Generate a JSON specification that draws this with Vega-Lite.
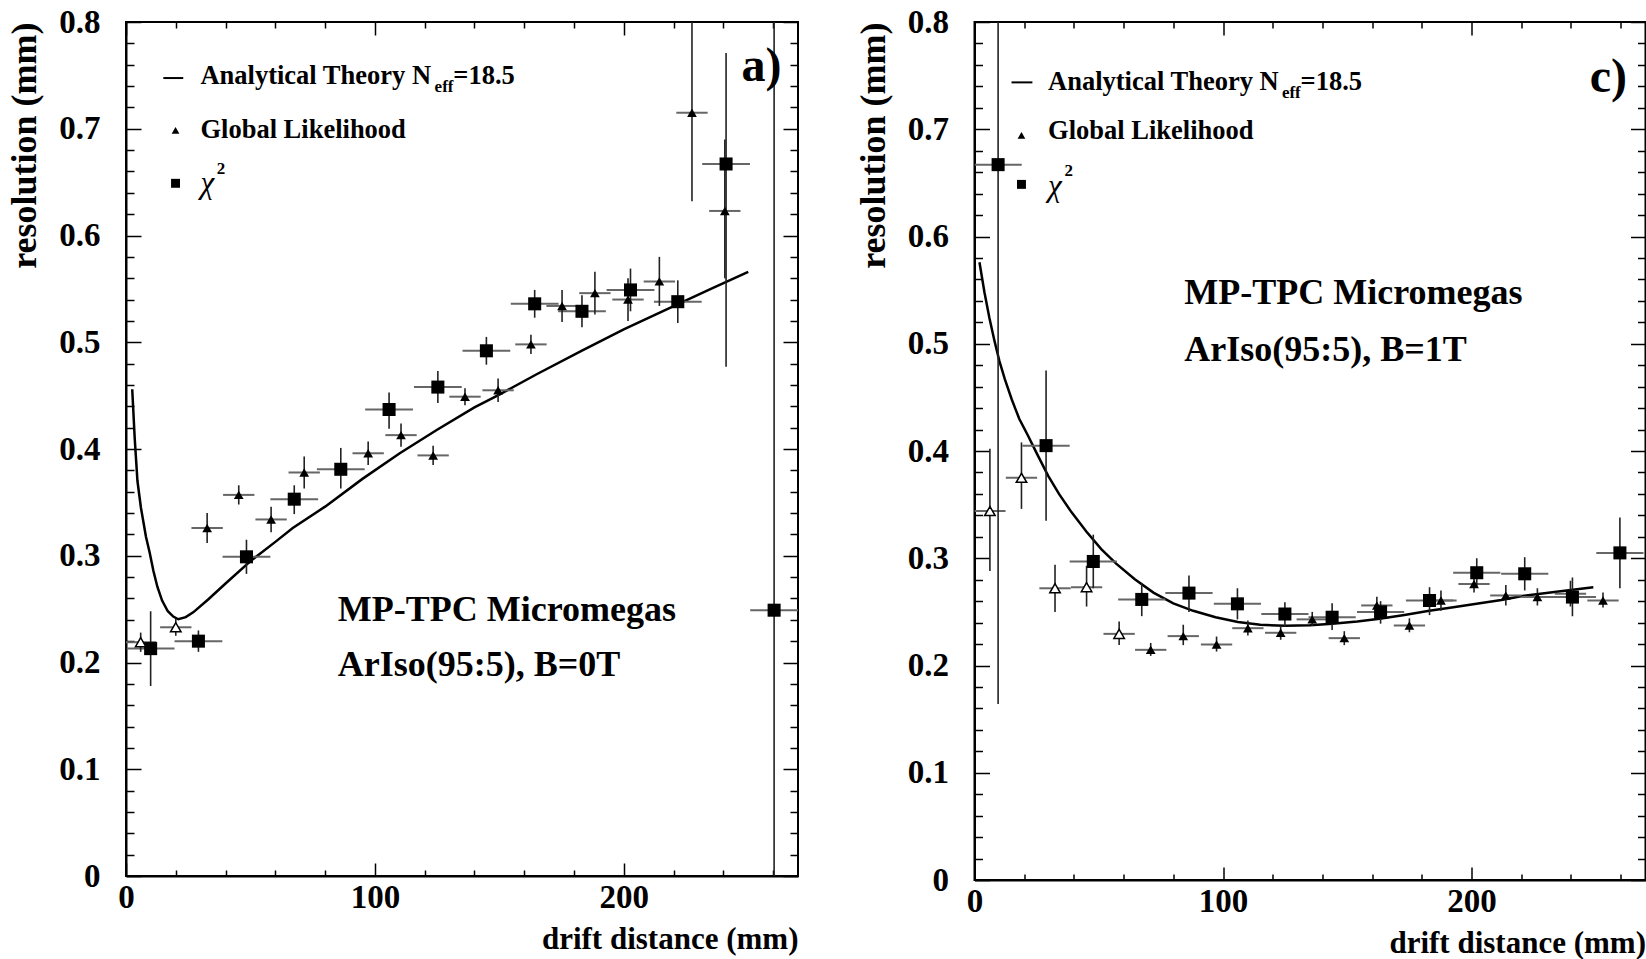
{
  "$schema": "https://vega.github.io/schema/vega-lite/v6.json",
  "padding": {"left": 5, "top": 5, "right": 0, "bottom": 0},
  "background": "white",
  "spacing": 176.5,
  "bounds": "flush",
  "config": {
    "font": "Liberation Serif",
    "view": {"stroke": "black", "strokeWidth": 2},
    "axis": {
      "grid": false,
      "labelFont": "Liberation Serif",
      "labelFontWeight": "bold",
      "labelFontSize": 33,
      "labelColor": "black",
      "titleFont": "Liberation Serif",
      "titleFontWeight": "bold",
      "titleColor": "black",
      "domainColor": "black",
      "domainWidth": 2,
      "tickColor": "black",
      "tickWidth": 1.5,
      "labelOverlap": false,
      "labelFlush": false
    }
  },
  "datasets": {
    "aTh": [
      {"x": 2.5, "y": 0.456}, {"x": 3.5, "y": 0.41}, {"x": 4.6, "y": 0.37}, {"x": 6, "y": 0.345},
      {"x": 8, "y": 0.318}, {"x": 9.5, "y": 0.303}, {"x": 11, "y": 0.286}, {"x": 12.6, "y": 0.271},
      {"x": 14.5, "y": 0.258}, {"x": 16.8, "y": 0.248}, {"x": 19, "y": 0.243}, {"x": 21, "y": 0.2405},
      {"x": 24, "y": 0.2425}, {"x": 27, "y": 0.247}, {"x": 33, "y": 0.259}, {"x": 40, "y": 0.274},
      {"x": 50, "y": 0.295}, {"x": 60, "y": 0.313}, {"x": 67, "y": 0.326}, {"x": 80, "y": 0.346},
      {"x": 95, "y": 0.372}, {"x": 110, "y": 0.396}, {"x": 125, "y": 0.418}, {"x": 140, "y": 0.439},
      {"x": 150, "y": 0.451}, {"x": 165, "y": 0.47}, {"x": 183, "y": 0.492}, {"x": 200, "y": 0.512},
      {"x": 222, "y": 0.536}, {"x": 235, "y": 0.55}, {"x": 250, "y": 0.566}
    ],
    "aP": [
      {"x": 9.9, "y": 0.213, "xlo": 0.3, "xhi": 19.5, "ylo": 0.178, "yhi": 0.248, "k": "sq"},
      {"x": 29.1, "y": 0.22, "xlo": 19.5, "xhi": 38.7, "ylo": 0.21, "yhi": 0.23, "k": "sq"},
      {"x": 48.4, "y": 0.299, "xlo": 38.8, "xhi": 58, "ylo": 0.283, "yhi": 0.315, "k": "sq"},
      {"x": 67.6, "y": 0.353, "xlo": 58, "xhi": 77.2, "ylo": 0.339, "yhi": 0.366, "k": "sq"},
      {"x": 86.3, "y": 0.381, "xlo": 76.7, "xhi": 95.9, "ylo": 0.363, "yhi": 0.401, "k": "sq"},
      {"x": 105.7, "y": 0.437, "xlo": 96.1, "xhi": 115.3, "ylo": 0.419, "yhi": 0.453, "k": "sq"},
      {"x": 125.3, "y": 0.458, "xlo": 115.7, "xhi": 134.9, "ylo": 0.443, "yhi": 0.473, "k": "sq"},
      {"x": 144.8, "y": 0.492, "xlo": 135.2, "xhi": 154.4, "ylo": 0.479, "yhi": 0.505, "k": "sq"},
      {"x": 164.2, "y": 0.536, "xlo": 154.6, "xhi": 173.8, "ylo": 0.523, "yhi": 0.549, "k": "sq"},
      {"x": 183.2, "y": 0.529, "xlo": 173.6, "xhi": 192.8, "ylo": 0.514, "yhi": 0.544, "k": "sq"},
      {"x": 202.7, "y": 0.549, "xlo": 193.1, "xhi": 212.3, "ylo": 0.529, "yhi": 0.569, "k": "sq"},
      {"x": 221.7, "y": 0.538, "xlo": 212.1, "xhi": 231.3, "ylo": 0.518, "yhi": 0.558, "k": "sq"},
      {"x": 241.1, "y": 0.667, "xlo": 231.5, "xhi": 250.7, "ylo": 0.477, "yhi": 0.771, "k": "sq"},
      {"x": 260.4, "y": 0.249, "xlo": 250.8, "xhi": 270, "ylo": 0, "yhi": 0.8, "k": "sq"},
      {"x": 5.9, "y": 0.219, "xlo": 0, "xhi": 12.2, "ylo": 0.21, "yhi": 0.228, "k": "op"},
      {"x": 20, "y": 0.233, "xlo": 13.7, "xhi": 26.3, "ylo": 0.225, "yhi": 0.241, "k": "op"},
      {"x": 32.6, "y": 0.326, "xlo": 26.3, "xhi": 38.9, "ylo": 0.312, "yhi": 0.34, "k": "tr"},
      {"x": 45.3, "y": 0.357, "xlo": 39, "xhi": 51.6, "ylo": 0.348, "yhi": 0.366, "k": "tr"},
      {"x": 58.3, "y": 0.334, "xlo": 52, "xhi": 64.6, "ylo": 0.322, "yhi": 0.346, "k": "tr"},
      {"x": 71.6, "y": 0.378, "xlo": 65.3, "xhi": 77.9, "ylo": 0.363, "yhi": 0.393, "k": "tr"},
      {"x": 97.3, "y": 0.396, "xlo": 91, "xhi": 103.6, "ylo": 0.385, "yhi": 0.407, "k": "tr"},
      {"x": 110.5, "y": 0.413, "xlo": 104.2, "xhi": 116.8, "ylo": 0.402, "yhi": 0.424, "k": "tr"},
      {"x": 123.4, "y": 0.394, "xlo": 117.1, "xhi": 129.7, "ylo": 0.385, "yhi": 0.403, "k": "tr"},
      {"x": 136.2, "y": 0.449, "xlo": 129.9, "xhi": 142.5, "ylo": 0.441, "yhi": 0.457, "k": "tr"},
      {"x": 149.5, "y": 0.455, "xlo": 143.2, "xhi": 155.8, "ylo": 0.444, "yhi": 0.466, "k": "tr"},
      {"x": 162.7, "y": 0.498, "xlo": 156.4, "xhi": 169, "ylo": 0.489, "yhi": 0.507, "k": "tr"},
      {"x": 175.2, "y": 0.534, "xlo": 168.9, "xhi": 181.5, "ylo": 0.519, "yhi": 0.549, "k": "tr"},
      {"x": 188.4, "y": 0.546, "xlo": 182.1, "xhi": 194.7, "ylo": 0.526, "yhi": 0.566, "k": "tr"},
      {"x": 201.7, "y": 0.54, "xlo": 195.4, "xhi": 208, "ylo": 0.52, "yhi": 0.56, "k": "tr"},
      {"x": 214.3, "y": 0.557, "xlo": 208, "xhi": 220.6, "ylo": 0.534, "yhi": 0.58, "k": "tr"},
      {"x": 227.4, "y": 0.715, "xlo": 221.1, "xhi": 233.7, "ylo": 0.632, "yhi": 0.8, "k": "tr"},
      {"x": 240.6, "y": 0.623, "xlo": 234.3, "xhi": 246.9, "ylo": 0.56, "yhi": 0.69, "k": "tr"}
    ],
    "aLeg": [
      {"x": 15, "x2": 23, "y": 0.7475, "k": "line"},
      {"x": 19.9, "y": 0.6985, "k": "tr"},
      {"x": 19.9, "y": 0.6489, "k": "sq"}
    ],
    "aTxt": [
      {"x": 29.9, "y": 0.7416, "t": "Analytical Theory N", "r": "leg"},
      {"x": 124, "y": 0.7341, "t": "eff", "r": "sub"},
      {"x": 131.5, "y": 0.7416, "t": "=18.5", "r": "leg"},
      {"x": 29.9, "y": 0.691, "t": "Global Likelihood", "r": "leg"},
      {"x": 29.9, "y": 0.6395, "t": "χ", "r": "chi"},
      {"x": 36.5, "y": 0.6573, "t": "2", "r": "sub"},
      {"x": 263.4, "y": 0.7444, "t": "a)", "r": "tag"},
      {"x": 85.1, "y": 0.2388, "t": "MP-TPC Micromegas", "r": "big"},
      {"x": 85.1, "y": 0.1873, "t": "ArIso(95:5), B=0T", "r": "big"}
    ],
    "cTh": [
      {"x": 2, "y": 0.576}, {"x": 4, "y": 0.548}, {"x": 6, "y": 0.524}, {"x": 8, "y": 0.503},
      {"x": 10, "y": 0.484}, {"x": 12.2, "y": 0.467}, {"x": 15, "y": 0.448}, {"x": 18, "y": 0.43},
      {"x": 21.6, "y": 0.414}, {"x": 25, "y": 0.398}, {"x": 29.6, "y": 0.377}, {"x": 34, "y": 0.36},
      {"x": 39, "y": 0.343}, {"x": 45, "y": 0.325}, {"x": 51, "y": 0.3085}, {"x": 57, "y": 0.295},
      {"x": 64.5, "y": 0.2805}, {"x": 72, "y": 0.268}, {"x": 80, "y": 0.258}, {"x": 88, "y": 0.251},
      {"x": 97, "y": 0.245}, {"x": 106, "y": 0.2405}, {"x": 115, "y": 0.238}, {"x": 125, "y": 0.237},
      {"x": 135, "y": 0.2375}, {"x": 144, "y": 0.239}, {"x": 154, "y": 0.241}, {"x": 163, "y": 0.2435},
      {"x": 173, "y": 0.247}, {"x": 183, "y": 0.251}, {"x": 192, "y": 0.254}, {"x": 202, "y": 0.2575},
      {"x": 212, "y": 0.261}, {"x": 221, "y": 0.265}, {"x": 235, "y": 0.269}, {"x": 249, "y": 0.273}
    ],
    "cP": [
      {"x": 9.5, "y": 0.667, "xlo": 0, "xhi": 19, "ylo": 0.164, "yhi": 0.8, "k": "sq"},
      {"x": 28.8, "y": 0.405, "xlo": 19.3, "xhi": 38.3, "ylo": 0.335, "yhi": 0.475, "k": "sq"},
      {"x": 47.8, "y": 0.297, "xlo": 38.3, "xhi": 57.3, "ylo": 0.272, "yhi": 0.322, "k": "sq"},
      {"x": 67.3, "y": 0.2616, "xlo": 57.8, "xhi": 76.8, "ylo": 0.246, "yhi": 0.277, "k": "sq"},
      {"x": 86.3, "y": 0.2675, "xlo": 76.8, "xhi": 95.8, "ylo": 0.25, "yhi": 0.284, "k": "sq"},
      {"x": 105.8, "y": 0.2575, "xlo": 96.3, "xhi": 115.3, "ylo": 0.243, "yhi": 0.272, "k": "sq"},
      {"x": 124.9, "y": 0.248, "xlo": 115.4, "xhi": 134.4, "ylo": 0.236, "yhi": 0.259, "k": "sq"},
      {"x": 143.9, "y": 0.245, "xlo": 134.4, "xhi": 153.4, "ylo": 0.233, "yhi": 0.258, "k": "sq"},
      {"x": 163.4, "y": 0.25, "xlo": 153.9, "xhi": 172.9, "ylo": 0.239, "yhi": 0.26, "k": "sq"},
      {"x": 183.1, "y": 0.2606, "xlo": 173.6, "xhi": 192.6, "ylo": 0.247, "yhi": 0.273, "k": "sq"},
      {"x": 202.1, "y": 0.2865, "xlo": 192.6, "xhi": 211.6, "ylo": 0.273, "yhi": 0.3, "k": "sq"},
      {"x": 221.4, "y": 0.2855, "xlo": 211.9, "xhi": 230.9, "ylo": 0.27, "yhi": 0.301, "k": "sq"},
      {"x": 240.6, "y": 0.2638, "xlo": 231.1, "xhi": 250.1, "ylo": 0.246, "yhi": 0.282, "k": "sq"},
      {"x": 259.7, "y": 0.305, "xlo": 250.2, "xhi": 269.2, "ylo": 0.272, "yhi": 0.338, "k": "sq"},
      {"x": 6.2, "y": 0.344, "xlo": 0, "xhi": 12.5, "ylo": 0.288, "yhi": 0.402, "k": "op"},
      {"x": 18.9, "y": 0.375, "xlo": 12.6, "xhi": 25.2, "ylo": 0.346, "yhi": 0.408, "k": "op"},
      {"x": 32.4, "y": 0.272, "xlo": 26.1, "xhi": 38.7, "ylo": 0.25, "yhi": 0.294, "k": "op"},
      {"x": 45.1, "y": 0.273, "xlo": 38.8, "xhi": 51.4, "ylo": 0.255, "yhi": 0.293, "k": "op"},
      {"x": 58.2, "y": 0.2295, "xlo": 51.9, "xhi": 64.5, "ylo": 0.219, "yhi": 0.241, "k": "op"},
      {"x": 70.9, "y": 0.2146, "xlo": 64.6, "xhi": 77.2, "ylo": 0.209, "yhi": 0.221, "k": "tr"},
      {"x": 84, "y": 0.2274, "xlo": 77.7, "xhi": 90.3, "ylo": 0.219, "yhi": 0.238, "k": "tr"},
      {"x": 97.4, "y": 0.2196, "xlo": 91.1, "xhi": 103.7, "ylo": 0.213, "yhi": 0.227, "k": "tr"},
      {"x": 110, "y": 0.2348, "xlo": 103.7, "xhi": 116.3, "ylo": 0.228, "yhi": 0.242, "k": "tr"},
      {"x": 123.2, "y": 0.2305, "xlo": 116.9, "xhi": 129.5, "ylo": 0.224, "yhi": 0.237, "k": "tr"},
      {"x": 135.9, "y": 0.243, "xlo": 129.6, "xhi": 142.2, "ylo": 0.237, "yhi": 0.25, "k": "tr"},
      {"x": 148.8, "y": 0.2255, "xlo": 142.5, "xhi": 155.1, "ylo": 0.219, "yhi": 0.232, "k": "tr"},
      {"x": 161.9, "y": 0.256, "xlo": 155.6, "xhi": 168.2, "ylo": 0.248, "yhi": 0.264, "k": "tr"},
      {"x": 175, "y": 0.2373, "xlo": 168.7, "xhi": 181.3, "ylo": 0.231, "yhi": 0.244, "k": "tr"},
      {"x": 187.7, "y": 0.2606, "xlo": 181.4, "xhi": 194, "ylo": 0.251, "yhi": 0.27, "k": "tr"},
      {"x": 201, "y": 0.276, "xlo": 194.7, "xhi": 207.3, "ylo": 0.268, "yhi": 0.285, "k": "tr"},
      {"x": 213.8, "y": 0.2653, "xlo": 207.5, "xhi": 220.1, "ylo": 0.256, "yhi": 0.275, "k": "tr"},
      {"x": 226.5, "y": 0.2638, "xlo": 220.2, "xhi": 232.8, "ylo": 0.256, "yhi": 0.272, "k": "tr"},
      {"x": 239.8, "y": 0.2669, "xlo": 233.5, "xhi": 246.1, "ylo": 0.255, "yhi": 0.279, "k": "tr"},
      {"x": 252.9, "y": 0.2606, "xlo": 246.6, "xhi": 259.2, "ylo": 0.254, "yhi": 0.268, "k": "tr"}
    ],
    "cLeg": [
      {"x": 14.9, "x2": 23.3, "y": 0.7437, "k": "line"},
      {"x": 18.9, "y": 0.6943, "k": "tr"},
      {"x": 18.9, "y": 0.6486, "k": "sq"}
    ],
    "cTxt": [
      {"x": 29.6, "y": 0.7363, "t": "Analytical Theory N", "r": "leg"},
      {"x": 123.7, "y": 0.7288, "t": "eff", "r": "sub"},
      {"x": 131.2, "y": 0.7363, "t": "=18.5", "r": "leg"},
      {"x": 29.6, "y": 0.6906, "t": "Global Likelihood", "r": "leg"},
      {"x": 29.6, "y": 0.6375, "t": "χ", "r": "chi"},
      {"x": 36.2, "y": 0.6561, "t": "2", "r": "sub"},
      {"x": 262.6, "y": 0.7344, "t": "c)", "r": "tag"},
      {"x": 84.4, "y": 0.5368, "t": "MP-TPC Micromegas", "r": "big"},
      {"x": 84.4, "y": 0.4837, "t": "ArIso(95:5), B=1T", "r": "big"}
    ]
  },
  "hconcat": [
    {
      "width": 672,
      "height": 854,
      "resolve": {"axis": {"x": "independent", "y": "independent"}},
      "layer": [
        {
          "data": {"name": "aTh"},
          "mark": {"type": "line", "color": "black", "strokeWidth": 2.5, "clip": true},
          "encoding": {
            "x": {"field": "x", "type": "quantitative", "scale": {"domain": [0, 270], "nice": false, "zero": false},
              "axis": {"orient": "bottom", "values": [0,20,40,60,80,100,120,140,160,180,200,220,240,260],
                "labelExpr": "datum.value % 100 == 0 ? datum.label : ''",
                "tickSize": {"condition": {"test": "datum.value % 100 == 0", "value": -13}, "value": -6},
                "labelPadding": 18, "title": "drift distance (mm)", "titleFontSize": 31,
                "titleAnchor": "end", "titleAlign": "right", "titlePadding": 3}},
            "y": {"field": "y", "type": "quantitative", "scale": {"domain": [0, 0.8], "nice": false, "zero": false},
              "axis": {"orient": "left", "values": [0,0.02,0.04,0.06,0.08,0.1,0.12,0.14,0.16,0.18,0.2,0.22,0.24,0.26,0.28,0.3,0.32,0.34,0.36,0.38,0.4,0.42,0.44,0.46,0.48,0.5,0.52,0.54,0.56,0.58,0.6,0.62,0.64,0.66,0.68,0.7,0.72,0.74,0.76,0.78,0.8],
                "labelExpr": "abs(datum.value*10 - round(datum.value*10)) < 0.0001 ? format(datum.value, '~g') : ''",
                "tickSize": {"condition": {"test": "abs(datum.value*10 - round(datum.value*10)) < 0.0001", "value": -15}, "value": -8},
                "labelPadding": 41, "title": "resolution (mm)", "titleFontSize": 36,
                "titleAnchor": "end", "titlePadding": 15}}
          }
        },
        {
          "data": {"name": "aTh"},
          "mark": {"type": "line", "opacity": 0},
          "encoding": {
            "x": {"field": "x", "type": "quantitative", "scale": {"domain": [0, 270], "nice": false, "zero": false},
              "axis": {"orient": "top", "values": [0,20,40,60,80,100,120,140,160,180,200,220,240,260],
                "labels": false, "domain": false, "title": null,
                "tickSize": {"condition": {"test": "datum.value % 100 == 0", "value": -13}, "value": -6}}},
            "y": {"field": "y", "type": "quantitative", "scale": {"domain": [0, 0.8], "nice": false, "zero": false},
              "axis": {"orient": "right", "values": [0,0.02,0.04,0.06,0.08,0.1,0.12,0.14,0.16,0.18,0.2,0.22,0.24,0.26,0.28,0.3,0.32,0.34,0.36,0.38,0.4,0.42,0.44,0.46,0.48,0.5,0.52,0.54,0.56,0.58,0.6,0.62,0.64,0.66,0.68,0.7,0.72,0.74,0.76,0.78,0.8],
                "labels": false, "domain": false, "title": null,
                "tickSize": {"condition": {"test": "abs(datum.value*10 - round(datum.value*10)) < 0.0001", "value": -15}, "value": -8}}}
          }
        },
        {
          "data": {"name": "aP"},
          "mark": {"type": "rule", "color": "#666", "strokeWidth": 2, "clip": true},
          "encoding": {
            "x": {"field": "xlo", "type": "quantitative", "scale": {"domain": [0, 270], "nice": false, "zero": false}, "axis": null},
            "x2": {"field": "xhi"},
            "y": {"field": "y", "type": "quantitative", "scale": {"domain": [0, 0.8], "nice": false, "zero": false}, "axis": null}
          }
        },
        {
          "data": {"name": "aP"},
          "mark": {"type": "rule", "color": "#222", "strokeWidth": 1.6, "clip": true},
          "encoding": {
            "x": {"field": "x", "type": "quantitative", "scale": {"domain": [0, 270], "nice": false, "zero": false}, "axis": null},
            "y": {"field": "ylo", "type": "quantitative", "scale": {"domain": [0, 0.8], "nice": false, "zero": false}, "axis": null},
            "y2": {"field": "yhi"}
          }
        },
        {
          "data": {"name": "aP"},
          "transform": [{"filter": "datum.k == 'sq'"}],
          "mark": {"type": "point", "shape": "square", "filled": true, "color": "black", "size": 170, "opacity": 1},
          "encoding": {
            "x": {"field": "x", "type": "quantitative", "scale": {"domain": [0, 270], "nice": false, "zero": false}, "axis": null},
            "y": {"field": "y", "type": "quantitative", "scale": {"domain": [0, 0.8], "nice": false, "zero": false}, "axis": null}
          }
        },
        {
          "data": {"name": "aP"},
          "transform": [{"filter": "datum.k == 'tr'"}],
          "mark": {"type": "point", "shape": "triangle-up", "filled": true, "color": "black", "size": 95, "opacity": 1},
          "encoding": {
            "x": {"field": "x", "type": "quantitative", "scale": {"domain": [0, 270], "nice": false, "zero": false}, "axis": null},
            "y": {"field": "y", "type": "quantitative", "scale": {"domain": [0, 0.8], "nice": false, "zero": false}, "axis": null}
          }
        },
        {
          "data": {"name": "aP"},
          "transform": [{"filter": "datum.k == 'op'"}],
          "mark": {"type": "point", "shape": "triangle-up", "filled": true, "fill": "white", "stroke": "black", "strokeWidth": 1.5, "size": 110, "opacity": 1},
          "encoding": {
            "x": {"field": "x", "type": "quantitative", "scale": {"domain": [0, 270], "nice": false, "zero": false}, "axis": null},
            "y": {"field": "y", "type": "quantitative", "scale": {"domain": [0, 0.8], "nice": false, "zero": false}, "axis": null}
          }
        },
        {
          "data": {"name": "aLeg"},
          "transform": [{"filter": "datum.k == 'line'"}],
          "mark": {"type": "rule", "color": "black", "strokeWidth": 2},
          "encoding": {
            "x": {"field": "x", "type": "quantitative", "scale": {"domain": [0, 270], "nice": false, "zero": false}, "axis": null},
            "x2": {"field": "x2"},
            "y": {"field": "y", "type": "quantitative", "scale": {"domain": [0, 0.8], "nice": false, "zero": false}, "axis": null}
          }
        },
        {
          "data": {"name": "aLeg"},
          "transform": [{"filter": "datum.k == 'tr'"}],
          "mark": {"type": "point", "shape": "triangle-up", "filled": true, "color": "black", "size": 60, "opacity": 1},
          "encoding": {
            "x": {"field": "x", "type": "quantitative", "scale": {"domain": [0, 270], "nice": false, "zero": false}, "axis": null},
            "y": {"field": "y", "type": "quantitative", "scale": {"domain": [0, 0.8], "nice": false, "zero": false}, "axis": null}
          }
        },
        {
          "data": {"name": "aLeg"},
          "transform": [{"filter": "datum.k == 'sq'"}],
          "mark": {"type": "point", "shape": "square", "filled": true, "color": "black", "size": 80, "opacity": 1},
          "encoding": {
            "x": {"field": "x", "type": "quantitative", "scale": {"domain": [0, 270], "nice": false, "zero": false}, "axis": null},
            "y": {"field": "y", "type": "quantitative", "scale": {"domain": [0, 0.8], "nice": false, "zero": false}, "axis": null}
          }
        },
        {
          "data": {"name": "aTxt"},
          "transform": [{"filter": "datum.r == 'leg'"}],
          "mark": {"type": "text", "align": "left", "baseline": "alphabetic", "font": "Liberation Serif", "fontWeight": "bold", "fontSize": 26.5, "color": "black"},
          "encoding": {
            "x": {"field": "x", "type": "quantitative", "scale": {"domain": [0, 270], "nice": false, "zero": false}, "axis": null},
            "y": {"field": "y", "type": "quantitative", "scale": {"domain": [0, 0.8], "nice": false, "zero": false}, "axis": null},
            "text": {"field": "t"}
          }
        },
        {
          "data": {"name": "aTxt"},
          "transform": [{"filter": "datum.r == 'sub'"}],
          "mark": {"type": "text", "align": "left", "baseline": "alphabetic", "font": "Liberation Serif", "fontWeight": "bold", "fontSize": 17, "color": "black"},
          "encoding": {
            "x": {"field": "x", "type": "quantitative", "scale": {"domain": [0, 270], "nice": false, "zero": false}, "axis": null},
            "y": {"field": "y", "type": "quantitative", "scale": {"domain": [0, 0.8], "nice": false, "zero": false}, "axis": null},
            "text": {"field": "t"}
          }
        },
        {
          "data": {"name": "aTxt"},
          "transform": [{"filter": "datum.r == 'chi'"}],
          "mark": {"type": "text", "align": "left", "baseline": "alphabetic", "font": "Liberation Serif", "fontStyle": "italic", "fontSize": 31, "color": "black"},
          "encoding": {
            "x": {"field": "x", "type": "quantitative", "scale": {"domain": [0, 270], "nice": false, "zero": false}, "axis": null},
            "y": {"field": "y", "type": "quantitative", "scale": {"domain": [0, 0.8], "nice": false, "zero": false}, "axis": null},
            "text": {"field": "t"}
          }
        },
        {
          "data": {"name": "aTxt"},
          "transform": [{"filter": "datum.r == 'tag'"}],
          "mark": {"type": "text", "align": "right", "baseline": "alphabetic", "font": "Liberation Serif", "fontWeight": "bold", "fontSize": 48, "color": "black"},
          "encoding": {
            "x": {"field": "x", "type": "quantitative", "scale": {"domain": [0, 270], "nice": false, "zero": false}, "axis": null},
            "y": {"field": "y", "type": "quantitative", "scale": {"domain": [0, 0.8], "nice": false, "zero": false}, "axis": null},
            "text": {"field": "t"}
          }
        },
        {
          "data": {"name": "aTxt"},
          "transform": [{"filter": "datum.r == 'big'"}],
          "mark": {"type": "text", "align": "left", "baseline": "alphabetic", "font": "Liberation Serif", "fontWeight": "bold", "fontSize": 36, "color": "black"},
          "encoding": {
            "x": {"field": "x", "type": "quantitative", "scale": {"domain": [0, 270], "nice": false, "zero": false}, "axis": null},
            "y": {"field": "y", "type": "quantitative", "scale": {"domain": [0, 0.8], "nice": false, "zero": false}, "axis": null},
            "text": {"field": "t"}
          }
        }
      ]
    },
    {
      "width": 671,
      "height": 858,
      "resolve": {"axis": {"x": "independent", "y": "independent"}},
      "layer": [
        {
          "data": {"name": "cTh"},
          "mark": {"type": "line", "color": "black", "strokeWidth": 2.5, "clip": true},
          "encoding": {
            "x": {"field": "x", "type": "quantitative", "scale": {"domain": [0, 270], "nice": false, "zero": false},
              "axis": {"orient": "bottom", "values": [0,20,40,60,80,100,120,140,160,180,200,220,240,260],
                "labelExpr": "datum.value % 100 == 0 ? datum.label : ''",
                "tickSize": {"condition": {"test": "datum.value % 100 == 0", "value": -13}, "value": -6},
                "labelPadding": 18, "title": "drift distance (mm)", "titleFontSize": 31,
                "titleAnchor": "end", "titleAlign": "right", "titlePadding": 3}},
            "y": {"field": "y", "type": "quantitative", "scale": {"domain": [0, 0.8], "nice": false, "zero": false},
              "axis": {"orient": "left", "values": [0,0.02,0.04,0.06,0.08,0.1,0.12,0.14,0.16,0.18,0.2,0.22,0.24,0.26,0.28,0.3,0.32,0.34,0.36,0.38,0.4,0.42,0.44,0.46,0.48,0.5,0.52,0.54,0.56,0.58,0.6,0.62,0.64,0.66,0.68,0.7,0.72,0.74,0.76,0.78,0.8],
                "labelExpr": "abs(datum.value*10 - round(datum.value*10)) < 0.0001 ? format(datum.value, '~g') : ''",
                "tickSize": {"condition": {"test": "abs(datum.value*10 - round(datum.value*10)) < 0.0001", "value": -15}, "value": -8},
                "labelPadding": 41, "title": "resolution (mm)", "titleFontSize": 36,
                "titleAnchor": "end", "titlePadding": 15}}
          }
        },
        {
          "data": {"name": "cTh"},
          "mark": {"type": "line", "opacity": 0},
          "encoding": {
            "x": {"field": "x", "type": "quantitative", "scale": {"domain": [0, 270], "nice": false, "zero": false},
              "axis": {"orient": "top", "values": [0,20,40,60,80,100,120,140,160,180,200,220,240,260],
                "labels": false, "domain": false, "title": null,
                "tickSize": {"condition": {"test": "datum.value % 100 == 0", "value": -13}, "value": -6}}},
            "y": {"field": "y", "type": "quantitative", "scale": {"domain": [0, 0.8], "nice": false, "zero": false},
              "axis": {"orient": "right", "values": [0,0.02,0.04,0.06,0.08,0.1,0.12,0.14,0.16,0.18,0.2,0.22,0.24,0.26,0.28,0.3,0.32,0.34,0.36,0.38,0.4,0.42,0.44,0.46,0.48,0.5,0.52,0.54,0.56,0.58,0.6,0.62,0.64,0.66,0.68,0.7,0.72,0.74,0.76,0.78,0.8],
                "labels": false, "domain": false, "title": null,
                "tickSize": {"condition": {"test": "abs(datum.value*10 - round(datum.value*10)) < 0.0001", "value": -15}, "value": -8}}}
          }
        },
        {
          "data": {"name": "cP"},
          "mark": {"type": "rule", "color": "#666", "strokeWidth": 2, "clip": true},
          "encoding": {
            "x": {"field": "xlo", "type": "quantitative", "scale": {"domain": [0, 270], "nice": false, "zero": false}, "axis": null},
            "x2": {"field": "xhi"},
            "y": {"field": "y", "type": "quantitative", "scale": {"domain": [0, 0.8], "nice": false, "zero": false}, "axis": null}
          }
        },
        {
          "data": {"name": "cP"},
          "mark": {"type": "rule", "color": "#222", "strokeWidth": 1.6, "clip": true},
          "encoding": {
            "x": {"field": "x", "type": "quantitative", "scale": {"domain": [0, 270], "nice": false, "zero": false}, "axis": null},
            "y": {"field": "ylo", "type": "quantitative", "scale": {"domain": [0, 0.8], "nice": false, "zero": false}, "axis": null},
            "y2": {"field": "yhi"}
          }
        },
        {
          "data": {"name": "cP"},
          "transform": [{"filter": "datum.k == 'sq'"}],
          "mark": {"type": "point", "shape": "square", "filled": true, "color": "black", "size": 170, "opacity": 1},
          "encoding": {
            "x": {"field": "x", "type": "quantitative", "scale": {"domain": [0, 270], "nice": false, "zero": false}, "axis": null},
            "y": {"field": "y", "type": "quantitative", "scale": {"domain": [0, 0.8], "nice": false, "zero": false}, "axis": null}
          }
        },
        {
          "data": {"name": "cP"},
          "transform": [{"filter": "datum.k == 'tr'"}],
          "mark": {"type": "point", "shape": "triangle-up", "filled": true, "color": "black", "size": 95, "opacity": 1},
          "encoding": {
            "x": {"field": "x", "type": "quantitative", "scale": {"domain": [0, 270], "nice": false, "zero": false}, "axis": null},
            "y": {"field": "y", "type": "quantitative", "scale": {"domain": [0, 0.8], "nice": false, "zero": false}, "axis": null}
          }
        },
        {
          "data": {"name": "cP"},
          "transform": [{"filter": "datum.k == 'op'"}],
          "mark": {"type": "point", "shape": "triangle-up", "filled": true, "fill": "white", "stroke": "black", "strokeWidth": 1.5, "size": 110, "opacity": 1},
          "encoding": {
            "x": {"field": "x", "type": "quantitative", "scale": {"domain": [0, 270], "nice": false, "zero": false}, "axis": null},
            "y": {"field": "y", "type": "quantitative", "scale": {"domain": [0, 0.8], "nice": false, "zero": false}, "axis": null}
          }
        },
        {
          "data": {"name": "cLeg"},
          "transform": [{"filter": "datum.k == 'line'"}],
          "mark": {"type": "rule", "color": "black", "strokeWidth": 2},
          "encoding": {
            "x": {"field": "x", "type": "quantitative", "scale": {"domain": [0, 270], "nice": false, "zero": false}, "axis": null},
            "x2": {"field": "x2"},
            "y": {"field": "y", "type": "quantitative", "scale": {"domain": [0, 0.8], "nice": false, "zero": false}, "axis": null}
          }
        },
        {
          "data": {"name": "cLeg"},
          "transform": [{"filter": "datum.k == 'tr'"}],
          "mark": {"type": "point", "shape": "triangle-up", "filled": true, "color": "black", "size": 60, "opacity": 1},
          "encoding": {
            "x": {"field": "x", "type": "quantitative", "scale": {"domain": [0, 270], "nice": false, "zero": false}, "axis": null},
            "y": {"field": "y", "type": "quantitative", "scale": {"domain": [0, 0.8], "nice": false, "zero": false}, "axis": null}
          }
        },
        {
          "data": {"name": "cLeg"},
          "transform": [{"filter": "datum.k == 'sq'"}],
          "mark": {"type": "point", "shape": "square", "filled": true, "color": "black", "size": 80, "opacity": 1},
          "encoding": {
            "x": {"field": "x", "type": "quantitative", "scale": {"domain": [0, 270], "nice": false, "zero": false}, "axis": null},
            "y": {"field": "y", "type": "quantitative", "scale": {"domain": [0, 0.8], "nice": false, "zero": false}, "axis": null}
          }
        },
        {
          "data": {"name": "cTxt"},
          "transform": [{"filter": "datum.r == 'leg'"}],
          "mark": {"type": "text", "align": "left", "baseline": "alphabetic", "font": "Liberation Serif", "fontWeight": "bold", "fontSize": 26.5, "color": "black"},
          "encoding": {
            "x": {"field": "x", "type": "quantitative", "scale": {"domain": [0, 270], "nice": false, "zero": false}, "axis": null},
            "y": {"field": "y", "type": "quantitative", "scale": {"domain": [0, 0.8], "nice": false, "zero": false}, "axis": null},
            "text": {"field": "t"}
          }
        },
        {
          "data": {"name": "cTxt"},
          "transform": [{"filter": "datum.r == 'sub'"}],
          "mark": {"type": "text", "align": "left", "baseline": "alphabetic", "font": "Liberation Serif", "fontWeight": "bold", "fontSize": 17, "color": "black"},
          "encoding": {
            "x": {"field": "x", "type": "quantitative", "scale": {"domain": [0, 270], "nice": false, "zero": false}, "axis": null},
            "y": {"field": "y", "type": "quantitative", "scale": {"domain": [0, 0.8], "nice": false, "zero": false}, "axis": null},
            "text": {"field": "t"}
          }
        },
        {
          "data": {"name": "cTxt"},
          "transform": [{"filter": "datum.r == 'chi'"}],
          "mark": {"type": "text", "align": "left", "baseline": "alphabetic", "font": "Liberation Serif", "fontStyle": "italic", "fontSize": 31, "color": "black"},
          "encoding": {
            "x": {"field": "x", "type": "quantitative", "scale": {"domain": [0, 270], "nice": false, "zero": false}, "axis": null},
            "y": {"field": "y", "type": "quantitative", "scale": {"domain": [0, 0.8], "nice": false, "zero": false}, "axis": null},
            "text": {"field": "t"}
          }
        },
        {
          "data": {"name": "cTxt"},
          "transform": [{"filter": "datum.r == 'tag'"}],
          "mark": {"type": "text", "align": "right", "baseline": "alphabetic", "font": "Liberation Serif", "fontWeight": "bold", "fontSize": 48, "color": "black"},
          "encoding": {
            "x": {"field": "x", "type": "quantitative", "scale": {"domain": [0, 270], "nice": false, "zero": false}, "axis": null},
            "y": {"field": "y", "type": "quantitative", "scale": {"domain": [0, 0.8], "nice": false, "zero": false}, "axis": null},
            "text": {"field": "t"}
          }
        },
        {
          "data": {"name": "cTxt"},
          "transform": [{"filter": "datum.r == 'big'"}],
          "mark": {"type": "text", "align": "left", "baseline": "alphabetic", "font": "Liberation Serif", "fontWeight": "bold", "fontSize": 36, "color": "black"},
          "encoding": {
            "x": {"field": "x", "type": "quantitative", "scale": {"domain": [0, 270], "nice": false, "zero": false}, "axis": null},
            "y": {"field": "y", "type": "quantitative", "scale": {"domain": [0, 0.8], "nice": false, "zero": false}, "axis": null},
            "text": {"field": "t"}
          }
        }
      ]
    }
  ]
}
